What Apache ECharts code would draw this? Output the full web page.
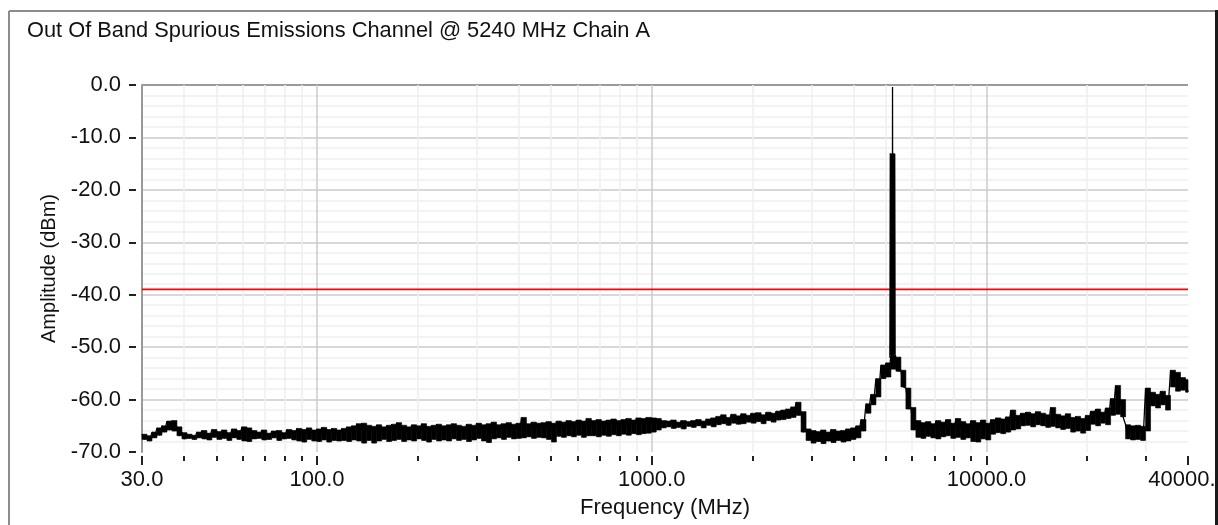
<!DOCTYPE html>
<html>
<head>
<meta charset="utf-8">
<script src="https://cdn.jsdelivr.net/npm/echarts@6/dist/echarts.min.js"></script>
<style>
html,body{margin:0;padding:0;background:#fff;}
#chart{width:1218px;height:525px;}
</style>
</head>
<body>
<div id="chart"></div>
<script>
// ---- data ----
const chartTitle = 'Out Of Band Spurious Emissions Channel @ 5240 MHz Chain A';
const sweepStartMHz = 30;
const sweepStopMHz = 40000;
const xLabelValues = [30, 100, 1000, 10000, 40000];
const xMinorValues = [40, 50, 60, 70, 80, 90, 200, 300, 400, 500, 600, 700, 800, 900,
  2000, 3000, 4000, 5000, 6000, 7000, 8000, 9000, 20000, 30000];
const yMin = -70, yMax = 0, yStep = 10;
const limitDbm = -39;

// per-bucket peak (high) and trough (low) of the trace, left to right across the sweep
const traceHighDbm = [
  -66.6, -66.9, -66.2, -65.4, -65.0, -64.1, -64.0, -65.2, -66.3, -66.6,
  -66.8, -66.2, -65.9, -66.4, -65.7, -66.1, -65.8, -66.3, -65.6, -65.9,
  -65.2, -65.4, -65.9, -66.2, -65.8, -66.4, -66.0, -65.9, -66.3, -65.7,
  -65.9, -65.5, -65.7, -65.4, -65.8, -65.6, -65.3, -65.7, -65.5, -65.8,
  -65.5, -65.2, -65.0, -64.6, -64.5, -64.9, -65.1, -64.8, -65.2, -64.9,
  -64.7, -64.4, -64.9, -65.2, -64.8, -65.0, -64.6, -65.1, -64.9, -64.7,
  -65.0, -64.8, -64.6, -64.9, -65.1, -64.7, -64.9, -64.5, -64.8, -64.6,
  -64.3, -64.8, -64.6, -64.4, -64.7, -64.5, -63.4, -64.6, -64.3, -64.5,
  -64.4, -64.2, -64.5, -64.1, -64.3, -64.0, -64.2, -63.9, -64.1, -63.6,
  -64.0, -63.8, -64.1, -63.9, -63.7, -64.0, -63.8, -63.6, -63.9, -63.5,
  -63.6, -63.4, -63.5, -63.6, -64.0, -64.1, -63.9, -64.3, -64.0, -64.2,
  -64.0, -63.8, -64.1, -63.7, -63.5, -63.2, -62.9, -63.4, -62.8, -63.1,
  -62.7, -63.0, -62.6, -62.5, -62.9, -62.4, -62.6, -62.2, -62.0, -61.8,
  -61.4, -60.5, -62.3, -65.6, -65.9, -66.1, -65.8, -66.2, -65.7, -66.0,
  -65.9, -65.6, -65.4, -65.0, -63.8, -60.8, -59.0, -56.0, -53.4, -53.0,
  -51.6, -51.9, -54.4, -57.8, -61.5, -64.0, -64.4, -64.2, -64.6, -64.0,
  -64.3, -63.8, -64.5, -63.6, -64.2, -64.6, -64.0, -64.4, -63.9, -64.5,
  -63.8, -63.5, -63.7, -63.3, -62.0, -63.0, -62.6, -62.4, -62.7, -62.3,
  -62.6, -62.9, -61.5, -62.8, -63.1, -62.7, -63.4, -63.2, -63.6, -63.0,
  -62.2, -61.8, -62.4, -61.6, -59.8, -57.3, -60.0, -64.8, -65.0, -64.9,
  -65.1, -57.8, -58.6, -59.0, -58.4, -59.2, -54.4, -54.8, -55.8, -56.2
];
const traceLowDbm = [
  -67.6, -67.9, -67.3, -66.8, -66.2, -65.8, -66.0, -66.9, -67.5, -67.4,
  -67.6, -67.3, -67.5, -67.7, -67.2, -67.6, -67.4, -67.8, -67.3, -67.6,
  -67.9, -68.0, -67.5, -67.4, -67.7, -67.6, -67.3, -67.8, -67.5, -67.4,
  -67.7, -67.9, -68.1, -67.6, -67.9, -68.0, -67.7, -68.1, -67.8, -67.9,
  -67.8, -68.0, -67.7, -67.9, -68.3, -67.8, -68.3, -67.9, -67.6, -68.0,
  -67.8, -67.6, -68.0, -67.7, -67.9, -67.5, -67.8, -68.1, -67.6, -67.9,
  -67.7, -67.9, -67.5, -67.8, -67.6, -68.0, -67.7, -67.4, -67.9, -68.2,
  -67.5, -67.3, -67.6, -67.2, -67.5, -67.4, -67.3, -67.1, -67.4, -67.2,
  -67.3, -67.6, -68.1, -67.0, -67.2, -66.9, -67.1, -66.8, -67.2, -66.9,
  -66.9, -67.1, -66.8, -67.0, -66.7, -66.9, -66.6, -66.8, -66.5, -66.7,
  -66.5, -66.4, -66.2, -65.8, -65.4, -65.2, -65.5, -65.3, -65.6, -65.1,
  -65.3, -65.0, -65.4, -64.9, -65.2, -64.8, -64.6, -64.9, -64.5, -64.7,
  -64.6, -64.3, -64.5, -64.2, -64.6, -64.0, -64.3, -63.9, -63.8, -63.6,
  -63.4, -63.0, -66.2, -67.8, -68.3, -68.0, -68.4, -67.9, -68.2, -67.8,
  -68.1, -67.9, -67.6, -67.3, -66.0, -62.6, -61.0, -59.5, -56.0, -55.7,
  -54.2, -54.6, -57.6, -61.8, -65.8, -67.2, -67.4, -67.0, -67.3, -67.5,
  -67.1, -66.9, -67.4, -67.2, -67.6, -67.3, -68.0, -68.1, -67.5, -67.7,
  -66.6, -66.3, -66.5, -66.2, -65.8, -65.6, -65.0, -64.9, -65.2, -64.8,
  -65.0, -65.3, -65.1, -65.4, -65.7, -65.5, -66.2, -66.0, -66.4, -65.9,
  -64.7, -65.0, -64.5, -64.8, -63.0, -62.8, -63.3, -67.5, -67.7, -67.6,
  -67.8, -66.0, -61.2, -61.6, -61.0, -62.0, -57.6, -58.4, -58.2, -58.6
];

// carrier at 5240 MHz
const carrierFreqMHz = [5145, 5160, 5175, 5190, 5205, 5220, 5232, 5240, 5250, 5262, 5275, 5290, 5305, 5320, 5335];
const carrierAmpDbm  = [-52, -13, -51.5, -13.1, -51.8, -13, -51.6, -0.4, -51.5, -13.2, -51.8, -13, -51.4, -13.1, -52];

// ---- build series data (analyzer sweep grid, log spaced) ----
const nPts = traceHighDbm.length * 2;
const sweepFreq = k => sweepStartMHz * Math.pow(sweepStopMHz / sweepStartMHz, k / (nPts - 1));
const traceData = [];
for (let k = 0; k < nPts; k++) {
  const i = Math.floor(k / 2);
  traceData.push([sweepFreq(k), k % 2 === 0 ? traceHighDbm[i] : traceLowDbm[i]]);
}
// envelope cells: [startFreq, endFreq, low, high]
const bandData = traceHighDbm.map((hi, i) =>
  [sweepFreq(2 * i), sweepFreq(Math.min(2 * i + 2, nPts - 1)), traceLowDbm[i], hi]);
const carrierData = carrierFreqMHz.map((f, i) => [f, carrierAmpDbm[i]]);
const limitData = [[sweepStartMHz, limitDbm], [sweepStopMHz, limitDbm]];

const FONT = '"Liberation Sans", Arial, sans-serif';
const GRID = {left: 142, right: 30, top: 85, bottom: 73};
const plotW = 1218 - GRID.left - GRID.right;
const plotH = 525 - GRID.top - GRID.bottom;

const chart = echarts.init(document.getElementById('chart'), null, {renderer: 'canvas'});

const option = {
  animation: false,
  backgroundColor: '#ffffff',
  title: {
    text: chartTitle,
    left: 27, top: 20, padding: 0,
    textStyle: {fontFamily: FONT, fontSize: 21.8, fontWeight: 'normal', color: '#111'}
  },
  grid: Object.assign({outerBoundsMode: 'none', containLabel: false}, GRID),
  xAxis: [
    { // major axis with labels
      type: 'log', logBase: 10, min: sweepStartMHz, max: sweepStopMHz,
      position: 'bottom', offset: 4,
      name: 'Frequency (MHz)', nameLocation: 'middle', nameGap: 41,
      nameTextStyle: {fontFamily: FONT, fontSize: 22, color: '#111'},
      axisLine: {show: false, onZero: false},
      axisTick: {show: true, length: 9, customValues: xLabelValues, lineStyle: {color: '#222', width: 2}},
      axisLabel: {show: true, customValues: xLabelValues, margin: 13,
        fontFamily: FONT, fontSize: 22, color: '#111',
        formatter: v => Number(v).toFixed(1)},
      splitLine: {show: true, showMinLine: false, showMaxLine: false, lineStyle: {color: '#cbcbcb', width: 1.5}},
      minorTick: {show: false}, minorSplitLine: {show: false}
    },
    { // minor ticks + minor grid (top axis moved down to the bottom edge, ticks pointing down)
      type: 'log', logBase: 10, min: sweepStartMHz, max: sweepStopMHz,
      position: 'top', offset: -(plotH + 4),
      axisLine: {show: false, onZero: false},
      axisTick: {show: true, inside: true, length: 5, customValues: xMinorValues, lineStyle: {color: '#222', width: 2}},
      axisLabel: {show: false},
      splitLine: {show: true, lineStyle: {color: '#efefef', width: 1.5}},
      minorTick: {show: false}, minorSplitLine: {show: false}
    }
  ],
  yAxis: [
    {
      type: 'value', min: yMin, max: yMax, interval: yStep, position: 'left', offset: 6,
      name: 'Amplitude (dBm)', nameLocation: 'middle', nameGap: 71,
      nameTextStyle: {fontFamily: FONT, fontSize: 20, color: '#111'},
      axisLine: {show: false, onZero: false},
      axisTick: {show: true, length: 7, lineStyle: {color: '#222', width: 2}},
      axisLabel: {margin: 15, fontFamily: FONT, fontSize: 22, color: '#111',
        formatter: v => Number(v).toFixed(1)},
      splitLine: {show: true, showMinLine: false, showMaxLine: false, lineStyle: {color: '#cbcbcb', width: 1.5}},
      minorTick: {show: false, splitNumber: 5},
      minorSplitLine: {show: true, lineStyle: {color: '#efefef', width: 1.5}}
    },
    { // plot frame: left edge (axis line) and top edge (max split line)
      type: 'value', min: yMin, max: yMax, interval: yMax - yMin, position: 'right', offset: -plotW,
      axisLine: {show: true, onZero: false, lineStyle: {color: '#9a9a9a', width: 2}},
      axisTick: {show: false}, axisLabel: {show: false},
      splitLine: {show: true, showMinLine: false, showMaxLine: true, lineStyle: {color: '#9a9a9a', width: 2}}
    }
  ],
  graphic: [
    {type: 'line', z: 100, shape: {x1: 9, y1: 11, x2: 1216, y2: 11}, style: {stroke: '#8c8c8c', lineWidth: 2}},
    {type: 'line', z: 100, shape: {x1: 9, y1: 11, x2: 9, y2: 530}, style: {stroke: '#8c8c8c', lineWidth: 2}},
    {type: 'line', z: 100, shape: {x1: 1216.5, y1: 10, x2: 1216.5, y2: 530}, style: {stroke: '#1a1a1a', lineWidth: 3}}
  ],
  series: [
    {
      name: 'limit', type: 'line', xAxisIndex: 0, yAxisIndex: 0,
      data: limitData, symbol: 'none', silent: true,
      lineStyle: {color: '#ff0000', width: 1.8}
    },
    {
      name: 'band', type: 'custom', xAxisIndex: 0, yAxisIndex: 0,
      data: bandData, silent: true,
      encode: {x: [0, 1], y: [2, 3]},
      renderItem: function (params, api) {
        const p0 = api.coord([api.value(0), api.value(3)]);
        const p1 = api.coord([api.value(1), api.value(2)]);
        return {
          type: 'rect',
          shape: {x: p0[0], y: p0[1], width: p1[0] - p0[0], height: p1[1] - p0[1]},
          style: {fill: '#000', stroke: '#000', lineWidth: 0.6}
        };
      }
    },
    {
      name: 'trace', type: 'line', xAxisIndex: 0, yAxisIndex: 0,
      data: traceData, symbol: 'none', silent: true,
      lineStyle: {color: '#000', width: 1.3}
    },
    {
      name: 'carrier', type: 'line', xAxisIndex: 0, yAxisIndex: 0,
      data: carrierData, symbol: 'none', silent: true,
      lineStyle: {color: '#000', width: 1.3}
    }
  ]
};
chart.setOption(option);
</script>
</body>
</html>
